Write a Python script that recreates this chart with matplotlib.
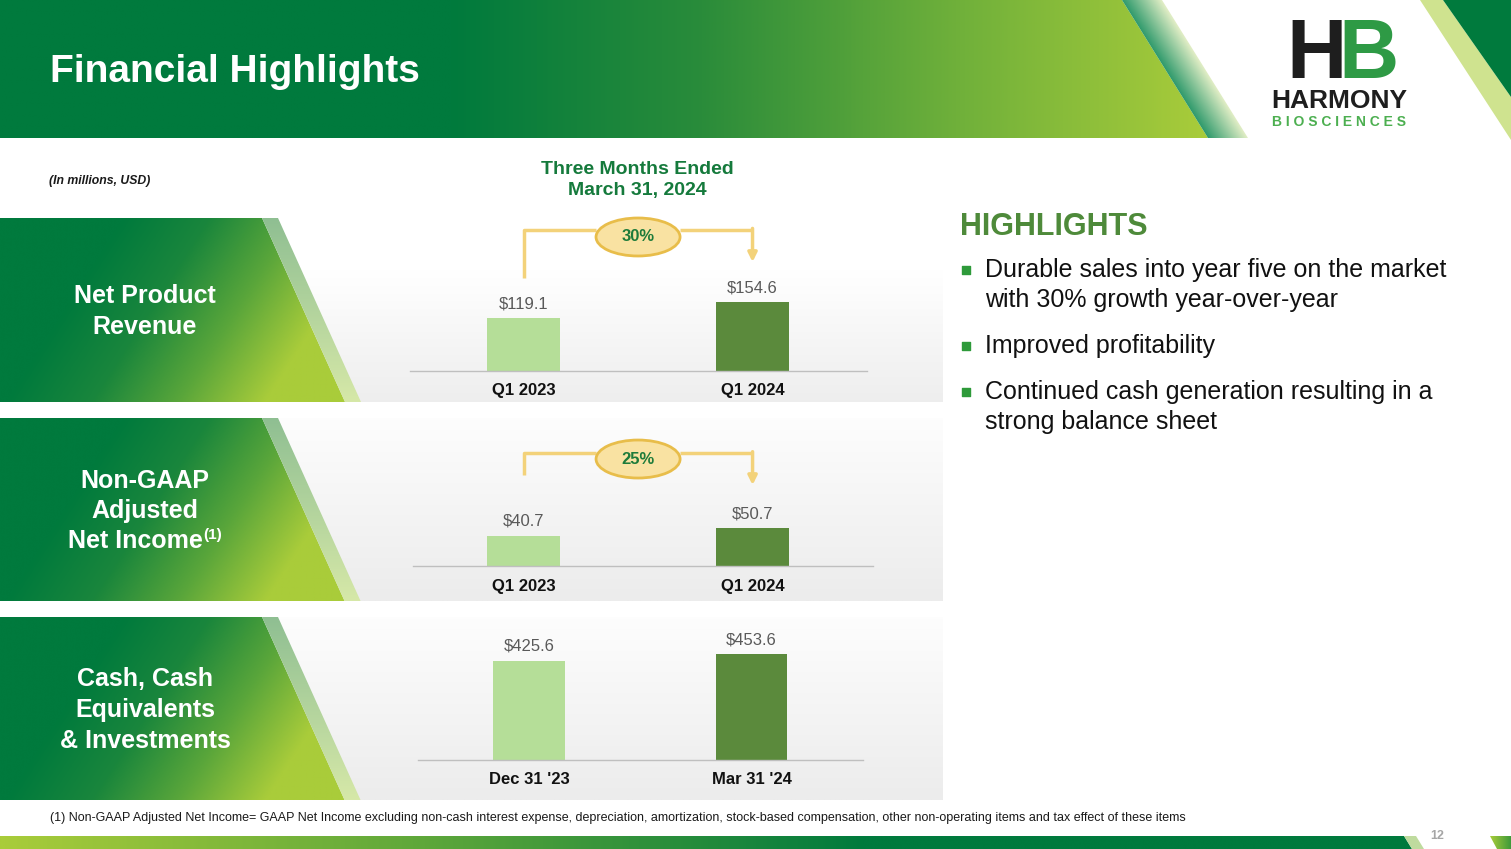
import numpy as np
import matplotlib
matplotlib.use("Agg")
import matplotlib.pyplot as plt
import matplotlib.transforms as mtransforms
from matplotlib.patches import Polygon, Ellipse
from matplotlib.colors import LinearSegmentedColormap

plt.rcParams['font.family'] = ['Liberation Sans', 'DejaVu Sans']

# ---- data ----
rev_labels = ["Q1 2023", "Q1 2024"]
rev_values = [119.1, 154.6]
ni_labels = ["Q1 2023", "Q1 2024"]
ni_values = [40.7, 50.7]
cash_labels = ["Dec 31 '23", "Mar 31 '24"]
cash_values = [425.6, 453.6]
growth_labels = ["30%", "25%"]
row_titles = [["Net Product", "Revenue"],
              ["Non-GAAP", "Adjusted", "Net Income"],
              ["Cash, Cash", "Equivalents", "& Investments"]]
highlights = [["Durable sales into year five on the market",
               "with 30% growth year-over-year"],
              ["Improved profitability"],
              ["Continued cash generation resulting in a",
               "strong balance sheet"]]
footnote = ("(1) Non-GAAP Adjusted Net Income= GAAP Net Income excluding non-cash interest expense, "
            "depreciation, amortization, stock-based compensation, other non-operating items and tax effect of these items")

bar_colors = ["#B5DE98", "#5B8A3C"]
DARK = "#007A3D"
LIME = "#A9CC3A"
GOLD = "#F3D27A"

W, H = 1511, 849
fig = plt.figure(figsize=(W / 100, H / 100), dpi=100)
bg = fig.add_axes([0, 0, 1, 1], zorder=0)
bg.axis('off')


def grad_fill(ax, poly, func, cmap, z=1):
    xs = [p[0] for p in poly]
    ys = [p[1] for p in poly]
    x0, x1, y0, y1 = min(xs), max(xs), min(ys), max(ys)
    PX, PY = np.meshgrid(np.linspace(x0, x1, 400), np.linspace(y0, y1, 150))
    img = np.clip(func(PX, PY), 0, 1)
    im = ax.imshow(img, extent=(x0, x1, y1, y0), cmap=cmap, vmin=0, vmax=1,
                   aspect='auto', zorder=z, interpolation='bilinear')
    patch = Polygon(poly, closed=True, facecolor='none', edgecolor='none')
    ax.add_patch(patch)
    im.set_clip_path(patch)


cm_head = LinearSegmentedColormap.from_list("h", [DARK, "#2A8C3A", "#6FB03A", LIME])
cm_panel = LinearSegmentedColormap.from_list("p", [DARK, "#1A863C", "#5AA63A", LIME])
cm_gray = LinearSegmentedColormap.from_list("g", ["#FFFFFF", "#ECECEC"])
cm_stripe = LinearSegmentedColormap.from_list("s", ["#2F9A6C", "#E2EEC6"])
cm_lstripe = LinearSegmentedColormap.from_list("ls", ["#8FBF92", "#D6E8A8"])
cm_foot = LinearSegmentedColormap.from_list("f", [LIME, "#5CA63A", DARK, DARK])

# header band
grad_fill(bg, [(0, 0), (1122, 0), (1208, 138), (0, 138)],
          lambda x, y: (x - 450) / 760, cm_head)
grad_fill(bg, [(1122, 0), (1162, 0), (1248, 138), (1208, 138)],
          lambda x, y: (x - (1122 + 86 * y / 138)) / 40, cm_stripe)
bg.add_patch(Polygon([(1420, 0), (1443, 0), (1511, 97), (1511, 140)], closed=True,
                     facecolor="#CFE38F", edgecolor='none', zorder=2))
bg.add_patch(Polygon([(1443, 0), (1511, 0), (1511, 97)], closed=True,
                     facecolor=DARK, edgecolor='none', zorder=2))
bg.text(50, 72, "Financial Highlights", fontsize=28, fontweight='bold', color='white',
        va='center', ha='left', zorder=3)

# logo
bg.text(1317, 56, "H", fontsize=60, fontweight='bold', color="#1E1E1E", ha='center', va='center', zorder=3)
bg.text(1369, 56, "B", fontsize=60, fontweight='bold', color="#2E9A45", ha='center', va='center', zorder=4)
bg.text(1339, 101, "HARMONY", fontsize=19, fontweight='bold', color="#1E1E1E", ha='center', va='center', zorder=3)
bg.text(1339, 122, "B I O S C I E N C E S", fontsize=10, fontweight='bold', color="#4CAF50",
        ha='center', va='center', zorder=3)

# sub headings
bg.text(49, 181, "(In millions, USD)", fontsize=8.8, fontweight='bold', style='italic',
        color="#1A1A1A", va='center', zorder=3)
bg.text(637, 180, "Three Months Ended\nMarch 31, 2024", fontsize=14, fontweight='bold',
        color="#157A3C", ha='center', va='center', linespacing=1.25, zorder=3)

# rows: grey panels and left trapezoids
rows = [(218, 402), (418, 601), (617, 800)]
gray_start = [270, 418, 617]
for (top, bot), gs in zip(rows, gray_start):
    grad_fill(bg, [(0, top), (943, top), (943, bot), (0, bot)],
              lambda x, y, gs=gs, bot=bot: (y - gs) / (bot - gs) * 0.9 + 0.1 * (gs != 270),
              cm_gray, z=1)
    dx = 83 * (bot - top) / 184
    grad_fill(bg, [(0, top), (262, top), (262 + dx, bot), (0, bot)],
              lambda x, y, top=top, bot=bot: (x - 110) / 260 + (y - top) / (bot - top) * 0.45 - 0.05,
              cm_panel, z=2)
    grad_fill(bg, [(262, top), (278, top), (278 + dx, bot), (262 + dx, bot)],
              lambda x, y, top=top, bot=bot: (y - top) / (bot - top), cm_lstripe, z=2)

for (top, bot), lines in zip(rows, row_titles):
    mid = (top + bot) / 2 + 1.5
    n = len(lines)
    for k, ln in enumerate(lines):
        yy = mid + (k - (n - 1) / 2) * 30.5
        xx = 145 if ln != "Net Income" else 135
        bg.text(xx, yy, ln, fontsize=18, fontweight='bold', color='white',
                ha='center', va='center', zorder=3)
bg.text(203, 535, "(1)", fontsize=11, fontweight='bold', color='white', ha='left', va='center', zorder=3)

# highlights
bg.text(960, 227, "HIGHLIGHTS", fontsize=22, fontweight='bold', color="#4E8A3A", va='center', zorder=3)
yy = 270
for item in highlights:
    bg.scatter([966], [yy], marker='s', s=28, color="#2E9A3A", zorder=3)
    for ln in item:
        bg.text(985, yy, ln, fontsize=18, color="#111111", va='center', zorder=3)
        yy += 30
    yy += 16

# footnote and bottom band
bg.text(50, 818, footnote, fontsize=9, color="#1A1A1A", va='center', zorder=3)
grad_fill(bg, [(0, 836), (1404, 836), (1412, 849), (0, 849)],
          lambda x, y: x / 1300, cm_foot)
bg.add_patch(Polygon([(1404, 836), (1416, 836), (1424, 849), (1412, 849)], closed=True,
                     facecolor="#BFDB9E", edgecolor='none', zorder=2))
grad_fill(bg, [(1490, 836), (1511, 836), (1511, 849), (1497, 849)],
          lambda x, y: (x - 1490) / 21, LinearSegmentedColormap.from_list("r", [LIME, "#3E9A3A"]))
bg.text(1437, 836, "12", fontsize=9, fontweight='bold', color="#A6A6A6", ha='center', va='center', zorder=3)

bg.set_xlim(0, W)
bg.set_ylim(H, 0)


# ---- bar charts ----
def chart(box, xlim, ymax, labels, values, growth=None, conn=None):
    left, top, right, bottom = box
    ax = fig.add_axes([left / W, 1 - bottom / H, (right - left) / W, (bottom - top) / H], zorder=5)
    ax.patch.set_alpha(0)
    x = np.arange(len(values))
    ax.bar(x, values, width=0.32, color=bar_colors, zorder=2)
    ax.set_xlim(*xlim)
    ax.set_ylim(0, ymax)
    for s in ['top', 'left', 'right']:
        ax.spines[s].set_visible(False)
    ax.spines['bottom'].set_color("#BFBFBF")
    ax.spines['bottom'].set_linewidth(1)
    ax.set_yticks([])
    ax.set_xticks(x, labels, fontsize=12, fontweight='bold', color="#111111")
    ax.tick_params(axis='x', length=0, pad=9)
    for i, v in zip(x, values):
        ax.annotate(f"${v:.1f}", (i, v), xytext=(0, 5), textcoords='offset points',
                    ha='center', va='bottom', fontsize=12, color="#595959")
    if growth is not None:
        y_top, y_left, y_tip, y_ell, e_h = conn
        tr = mtransforms.blended_transform_factory(ax.transData, ax.transAxes)
        ew = 0.367
        ax.plot([0, 0, 0.5 - ew / 2], [y_left, y_top, y_top], transform=tr, color=GOLD,
                lw=2.5, clip_on=False, solid_capstyle='butt')
        ax.plot([0.5 + ew / 2, 1], [y_top, y_top], transform=tr, color=GOLD,
                lw=2.5, clip_on=False, solid_capstyle='butt')
        ax.annotate('', xy=(1, y_tip), xytext=(1, y_top + 0.01), xycoords=tr, textcoords=tr,
                    arrowprops=dict(arrowstyle='-|>', color=GOLD, lw=2.5, mutation_scale=13,
                                    shrinkA=0, shrinkB=0))
        ax.add_patch(Ellipse((0.5, y_ell), ew, e_h, transform=tr, facecolor="#F9E2A2",
                             edgecolor="#E8BD4A", lw=2, clip_on=False, zorder=3))
        ax.text(0.5, y_ell, growth, transform=tr, ha='center', va='center', fontsize=12,
                fontweight='bold', color="#1E7B3A", zorder=4)
    return ax


chart((410, 215, 867, 371), (-0.496, 1.5), 156 / 0.445, rev_labels, rev_values,
      growth_labels[0], (0.904, 0.596, 0.699, 0.859, 38 / 156))
chart((413, 440, 873, 566), (-0.483, 1.526), 126 / 0.74, ni_labels, ni_values,
      growth_labels[1], (0.897, 0.722, 0.643, 0.849, 38 / 126))
chart((418, 620, 863, 760), (-0.499, 1.501), 140 / 0.233, cash_labels, cash_values)

fig.savefig("out.png", dpi=100)
